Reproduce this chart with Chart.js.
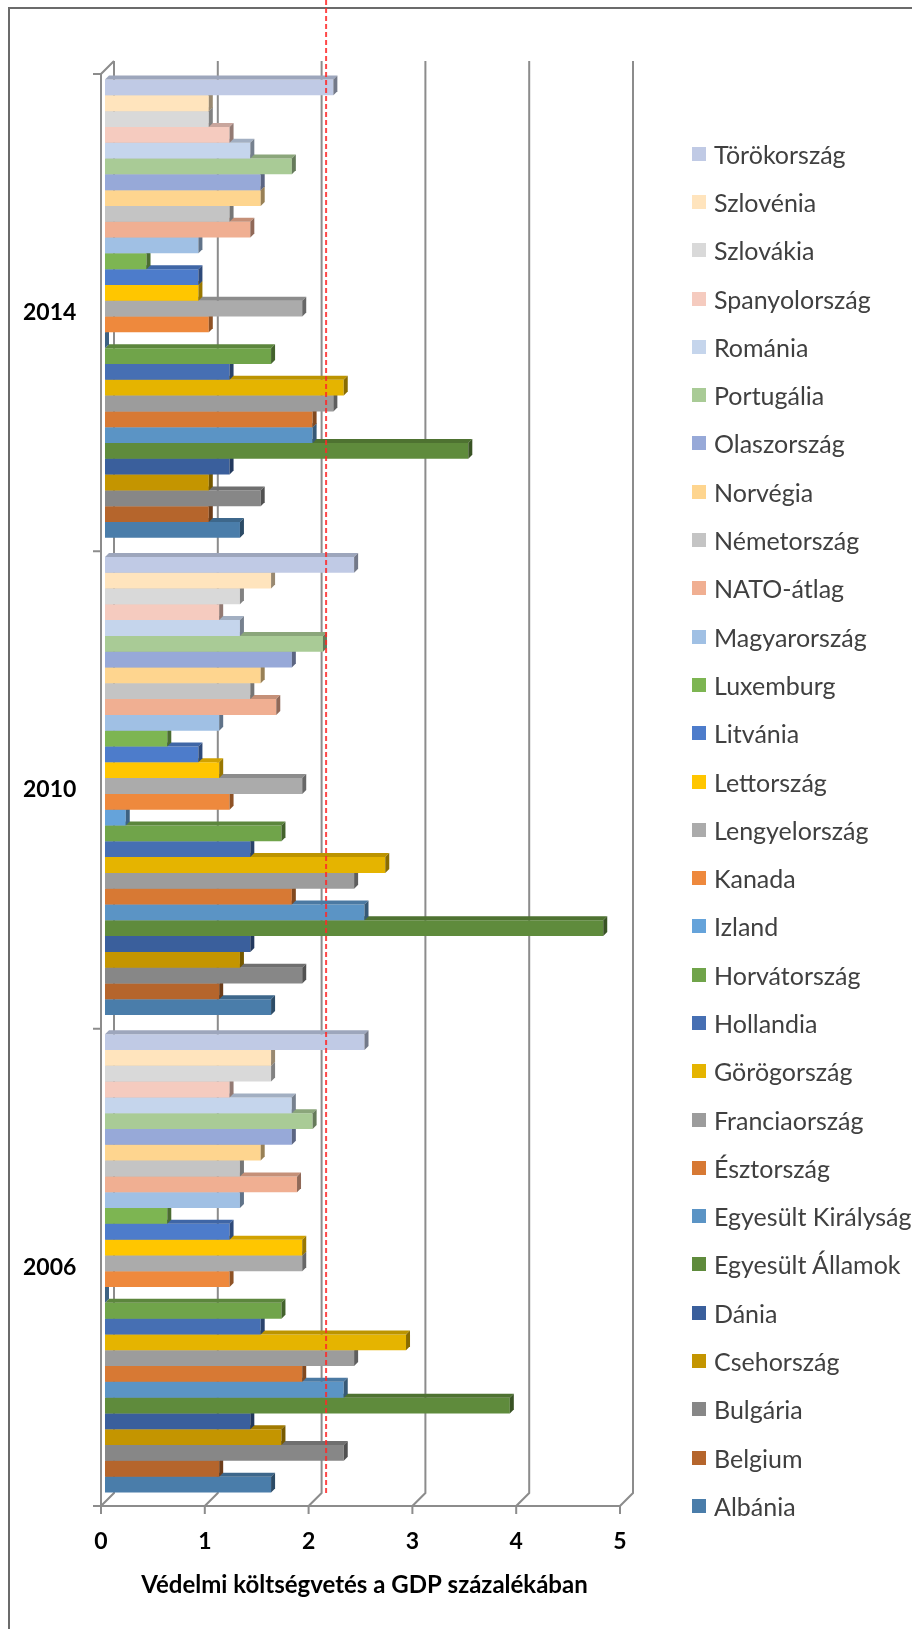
<!DOCTYPE html>
<html>
<head>
<meta charset="utf-8">
<script src="https://cdn.jsdelivr.net/npm/chart.js@4.4.1/dist/chart.umd.min.js"></script>
<style>
  html, body { margin: 0; padding: 0; background: #fff; overflow: hidden; width: 912px; height: 1629px; }
  #frame { position: absolute; left: 8px; top: 7px; width: 1000px; height: 1700px;
           border-left: 2px solid #6b6b6b; border-top: 2px solid #6b6b6b; }
  #chart { position: absolute; left: 0; top: 0; }
  #legend { position: absolute; left: 692px; top: 129.5px; margin: 0; padding: 0; list-style: none;
            font-family: Lato, sans-serif; font-size: 25px; color: #404040; }
  #legend li { height: 48.3px; display: flex; align-items: center; white-space: nowrap; }
  #legend .box { width: 14px; height: 14px; margin-right: 8px; flex: none; }
</style>
</head>
<body>
<div id="frame"></div>
<canvas id="chart" width="912" height="1629"></canvas>
<ul id="legend"></ul>
<script>
var years = ['2014', '2010', '2006'];
var xTicks = [0, 1, 2, 3, 4, 5];

var countries = ['Törökország', 'Szlovénia', 'Szlovákia', 'Spanyolország', 'Románia', 'Portugália',
    'Olaszország', 'Norvégia', 'Németország', 'NATO-átlag', 'Magyarország', 'Luxemburg', 'Litvánia',
    'Lettország', 'Lengyelország', 'Kanada', 'Izland', 'Horvátország', 'Hollandia', 'Görögország',
    'Franciaország', 'Észtország', 'Egyesült Királyság', 'Egyesült Államok', 'Dánia', 'Csehország',
    'Bulgária', 'Belgium', 'Albánia'];

var colors = ['#C0CAE5', '#FFE4BD', '#D9D9D9', '#F5CBBF', '#C5D5EC', '#A9CB96',
    '#97A9D8', '#FED58F', '#C4C4C4', '#F0AF92', '#A0C0E4', '#7DB552', '#4D7CCB',
    '#FFC600', '#ABABAB', '#EE893D', '#65A3DA', '#70A44A', '#466FB3', '#E5B400',
    '#9C9C9C', '#D77934', '#5B94C5', '#5F8B3C', '#3A5F9C', '#C49500',
    '#878787', '#B5652C', '#4A7DAA'];

// share of GDP, same order as countries
var v2014 = [2.2, 1.0, 1.0, 1.2, 1.4, 1.8, 1.5, 1.5, 1.2, 1.4, 0.9, 0.4, 0.9,
    0.9, 1.9, 1.0, 0, 1.6, 1.2, 2.3, 2.2, 2.0, 2.0, 3.5, 1.2, 1.0, 1.5, 1.0, 1.3];
var v2010 = [2.4, 1.6, 1.3, 1.1, 1.3, 2.1, 1.8, 1.5, 1.4, 1.65, 1.1, 0.6, 0.9,
    1.1, 1.9, 1.2, 0.2, 1.7, 1.4, 2.7, 2.4, 1.8, 2.5, 4.8, 1.4, 1.3, 1.9, 1.1, 1.6];
var v2006 = [2.5, 1.6, 1.6, 1.2, 1.8, 2.0, 1.8, 1.5, 1.3, 1.85, 1.3, 0.6, 1.2,
    1.9, 1.9, 1.2, 0, 1.7, 1.5, 2.9, 2.4, 1.9, 2.3, 3.9, 1.4, 1.7, 2.3, 1.1, 1.6];

var targetLine = 2.13; // hand drawn red dashed line

// 3d look: offsets of front / back planes relative to the bar faces
var FRONT = { dx: -4, dy: 4 };
var BACK = { dx: 9, dy: -9 };
var FACE = 4;

function shade(hex, k) {
    var n = parseInt(hex.slice(1), 16);
    var r = (n >> 16) & 255, g = (n >> 8) & 255, b = n & 255;
    return 'rgb(' + Math.round(r * (1 - k)) + ',' + Math.round(g * (1 - k)) + ',' + Math.round(b * (1 - k)) + ')';
}

var frame3d = {
    id: 'frame3d',
    beforeDatasetsDraw: function (chart) {
        var ctx = chart.ctx, a = chart.chartArea, x = chart.scales.x, y = chart.scales.y;
        var x0 = x.getPixelForValue(0);
        ctx.save();
        ctx.strokeStyle = '#8c8c8c';
        ctx.lineWidth = 2;
        ctx.beginPath();
        xTicks.forEach(function (v) {
            var px = x.getPixelForValue(v);
            ctx.moveTo(px + BACK.dx, a.top + BACK.dy);
            ctx.lineTo(px + BACK.dx, a.bottom + BACK.dy);
            ctx.lineTo(px + FRONT.dx, a.bottom + FRONT.dy);
            ctx.lineTo(px + FRONT.dx, a.bottom + FRONT.dy + 8);
        });
        // floor front edge
        ctx.moveTo(x0 + FRONT.dx - 8, a.bottom + FRONT.dy);
        ctx.lineTo(x.getPixelForValue(5) + FRONT.dx, a.bottom + FRONT.dy);
        // left wall
        ctx.moveTo(x0 + FRONT.dx, a.bottom + FRONT.dy);
        ctx.lineTo(x0 + FRONT.dx, a.top + FRONT.dy);
        ctx.lineTo(x0 + BACK.dx, a.top + BACK.dy);
        // category boundary ticks
        var step = y.getPixelForValue(1) - y.getPixelForValue(0);
        for (var i = 0; i < years.length; i++) {
            var yb = y.getPixelForValue(i) - step / 2 + FRONT.dy;
            ctx.moveTo(x0 + FRONT.dx - 8, yb);
            ctx.lineTo(x0 + FRONT.dx, yb);
        }
        ctx.stroke();
        ctx.restore();
    },
    afterDatasetDraw: function (chart, args) {
        var ctx = chart.ctx;
        var col = chart.data.datasets[args.index].backgroundColor;
        ctx.save();
        args.meta.data.forEach(function (bar) {
            var p = bar.getProps(['x', 'y', 'base', 'height'], true);
            var top = p.y - p.height / 2, bottom = p.y + p.height / 2;
            ctx.fillStyle = shade(col, 0.18);
            ctx.beginPath();
            ctx.moveTo(p.base, top);
            ctx.lineTo(p.x, top);
            ctx.lineTo(p.x + FACE, top - FACE);
            ctx.lineTo(p.base + FACE, top - FACE);
            ctx.closePath();
            ctx.fill();
            ctx.fillStyle = shade(col, 0.4);
            ctx.beginPath();
            ctx.moveTo(p.x, top);
            ctx.lineTo(p.x + FACE, top - FACE);
            ctx.lineTo(p.x + FACE, bottom - FACE);
            ctx.lineTo(p.x, bottom);
            ctx.closePath();
            ctx.fill();
        });
        ctx.restore();
    },
    afterDatasetsDraw: function (chart) {
        var ctx = chart.ctx, a = chart.chartArea;
        var px = chart.scales.x.getPixelForValue(targetLine);
        ctx.save();
        ctx.strokeStyle = 'rgba(255, 40, 40, 0.85)';
        ctx.lineWidth = 2;
        ctx.setLineDash([5, 3]);
        ctx.beginPath();
        ctx.moveTo(px, 0);
        ctx.lineTo(px, a.bottom + BACK.dy);
        ctx.stroke();
        ctx.restore();
    }
};

// legend as an html list, built from the chart's own legend items
var htmlLegend = {
    id: 'htmlLegend',
    afterUpdate: function (chart) {
        var ul = document.getElementById('legend');
        ul.innerHTML = '';
        chart.options.plugins.legend.labels.generateLabels(chart).forEach(function (item) {
            var li = document.createElement('li');
            var box = document.createElement('span');
            box.className = 'box';
            box.style.background = item.fillStyle;
            var txt = document.createElement('span');
            txt.textContent = item.text;
            li.appendChild(box);
            li.appendChild(txt);
            ul.appendChild(li);
        });
    }
};

Chart.defaults.font.family = 'Lato';

var datasets = countries.map(function (name, i) {
    return {
        label: name,
        data: [v2014[i], v2010[i], v2006[i]],
        backgroundColor: colors[i],
        borderWidth: 0,
        categoryPercentage: 0.96,
        barPercentage: 1
    };
});

new Chart(document.getElementById('chart'), {
    type: 'bar',
    data: { labels: years, datasets: datasets },
    options: {
        indexAxis: 'y',
        responsive: false,
        animation: false,
        devicePixelRatio: 1,
        layout: { padding: { top: 70, bottom: 12, left: 23, right: 288 } },
        scales: {
            x: {
                min: 0,
                max: 5,
                grid: { display: false, drawTicks: false },
                border: { display: false },
                ticks: { stepSize: 1, padding: 26.2, labelOffset: FRONT.dx, maxRotation: 0,
                         color: '#000', font: { size: 23, weight: 'bold' } },
                title: { display: true, text: 'Védelmi költségvetés a GDP százalékában', color: '#000',
                         font: { size: 24, weight: 'bold' }, padding: { top: 0, bottom: 17.6 } },
                afterFit: function (s) { s.height = 115; }
            },
            y: {
                grid: { display: false, drawTicks: false },
                border: { display: false },
                ticks: { crossAlign: 'far', labelOffset: FRONT.dy, color: '#000',
                         font: { size: 23, weight: 'bold' } },
                afterFit: function (s) { s.width = 82; }
            }
        },
        plugins: {
            tooltip: { enabled: false },
            legend: { display: false }
        }
    },
    plugins: [frame3d, htmlLegend]
});
</script>
</body>
</html>
